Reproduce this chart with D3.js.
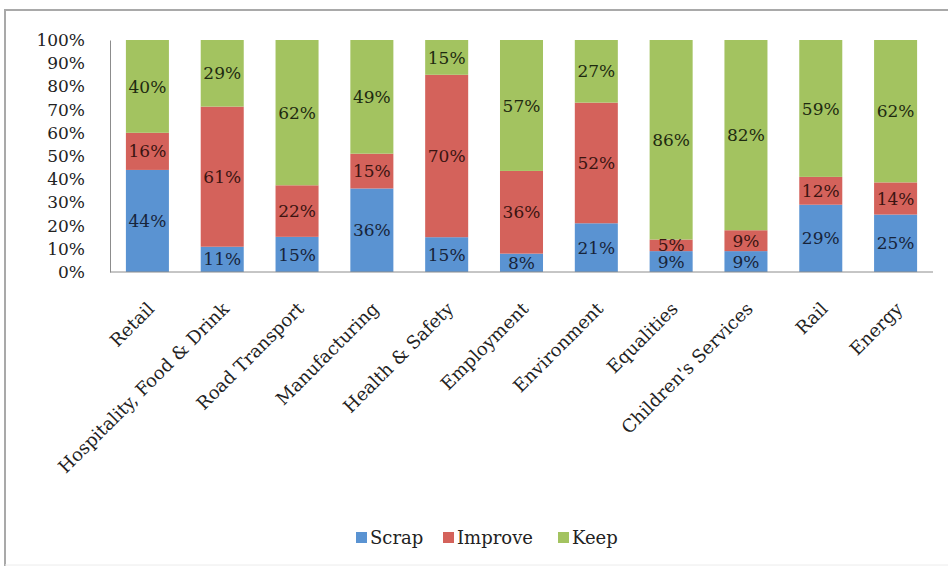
<!DOCTYPE html>
<html>
<head>
<meta charset="utf-8">
<script src="https://cdn.jsdelivr.net/npm/d3@7"></script>
<style>
  body { margin: 0; background: #fff; }
  text { font-family: "DejaVu Serif", Georgia, serif; }
</style>
</head>
<body>
<div id="chart"></div>
<script>
// data (Excel 100% stacked column)
const categories = ["Retail", "Hospitality, Food & Drink", "Road Transport", "Manufacturing",
    "Health & Safety", "Employment", "Environment", "Equalities", "Children's Services", "Rail", "Energy"];
const scrap   = [44, 11, 15, 36, 15,  8, 21,  9,  9, 29, 25];
const improve = [16, 61, 22, 15, 70, 36, 52,  5,  9, 12, 14];
const keep    = [40, 29, 62, 49, 15, 57, 27, 86, 82, 59, 62];
const seriesNames = ["Scrap", "Improve", "Keep"];
const yTicks = [0, 0.1, 0.2, 0.3, 0.4, 0.5, 0.6, 0.7, 0.8, 0.9, 1];

const colors = {Scrap: "#5a93d2", Improve: "#d4625b", Keep: "#a3c360"};
const labelColors = {Scrap: "#17243a", Improve: "#3a1411", Keep: "#1e2a10"};

const width = 948, height = 567;
const margin = {top: 40, left: 110, right: 15, bottom: 295};

const svg = d3.select("#chart").append("svg")
    .attr("width", width)
    .attr("height", height);

/* FRAME */
svg.append("line").attr("x1", 4).attr("x2", width).attr("y1", 10).attr("y2", 10)
    .attr("stroke", "#a9a9a9").attr("stroke-width", 2);
svg.append("line").attr("x1", 5).attr("x2", 5).attr("y1", 10).attr("y2", 566)
    .attr("stroke", "#a9a9a9").attr("stroke-width", 2);
svg.append("line").attr("x1", 5).attr("x2", width).attr("y1", 565).attr("y2", 565)
    .attr("stroke", "#ececec").attr("stroke-width", 1);

const rows = categories.map(function(c, i) {
    return {cat: c, Scrap: scrap[i], Improve: improve[i], Keep: keep[i]};
});

const stacked = d3.stack()
    .keys(seriesNames)
    .offset(d3.stackOffsetExpand)(rows);

/* SCALES */
const xScale = d3.scaleBand()
    .domain(categories)
    .range([margin.left, width - margin.right - 0])
    .paddingInner(0.425)
    .paddingOuter(0.2125);

const yScale = d3.scaleLinear()
    .domain([0, 1])
    .range([height - margin.bottom, margin.top]);

/* BARS */
const groups = svg.selectAll("g.series")
    .data(stacked)
    .enter()
    .append("g")
    .attr("class", "series")
    .attr("fill", d => colors[d.key]);

groups.selectAll("rect")
    .data(d => d)
    .enter()
    .append("rect")
    .attr("x", d => xScale(d.data.cat))
    .attr("y", d => yScale(d[1]))
    .attr("width", xScale.bandwidth())
    .attr("height", d => yScale(d[0]) - yScale(d[1]));

/* DATA LABELS */
stacked.forEach(function(s) {
    svg.append("g").selectAll("text")
        .data(s)
        .enter()
        .append("text")
        .attr("x", d => xScale(d.data.cat) + xScale.bandwidth() / 2)
        .attr("y", d => (yScale(d[0]) + yScale(d[1])) / 2)
        .attr("dy", "0.36em")
        .attr("text-anchor", "middle")
        .attr("font-size", 17)
        .attr("fill", labelColors[s.key])
        .text(d => d.data[s.key] + "%");
});

/* AXES */
const yAxis = svg.append("g")
    .attr("transform", `translate(${margin.left},0)`)
    .call(d3.axisLeft(yScale).tickValues(yTicks).tickFormat(d3.format(".0%")).tickSize(0).tickPadding(25));
yAxis.select(".domain").attr("stroke", "#8c8c8c");
yAxis.selectAll("text").attr("font-size", 17).attr("fill", "#222")
    .attr("font-family", "DejaVu Serif");

svg.append("line")
    .attr("x1", margin.left).attr("x2", width - margin.right)
    .attr("y1", yScale(0)).attr("y2", yScale(0))
    .attr("stroke", "#8c8c8c");

/* CATEGORY LABELS */
svg.append("g").selectAll("text")
    .data(categories)
    .enter()
    .append("text")
    .attr("transform", d => `translate(${xScale(d) + xScale.bandwidth() / 2 + 8},310) rotate(-45)`)
    .attr("text-anchor", "end")
    .attr("font-size", 18)
    .attr("fill", "#222")
    .text(d => d);

/* LEGEND */
const legendX = [356, 443, 558];
const legend = svg.append("g").selectAll("g")
    .data(seriesNames)
    .enter()
    .append("g")
    .attr("transform", (d, i) => `translate(${legendX[i]},532)`);
legend.append("rect")
    .attr("width", 11).attr("height", 11)
    .attr("fill", d => colors[d]);
legend.append("text")
    .attr("x", 14).attr("y", 12)
    .attr("font-size", 18)
    .attr("fill", "#222")
    .text(d => d);
</script>
</body>
</html>
